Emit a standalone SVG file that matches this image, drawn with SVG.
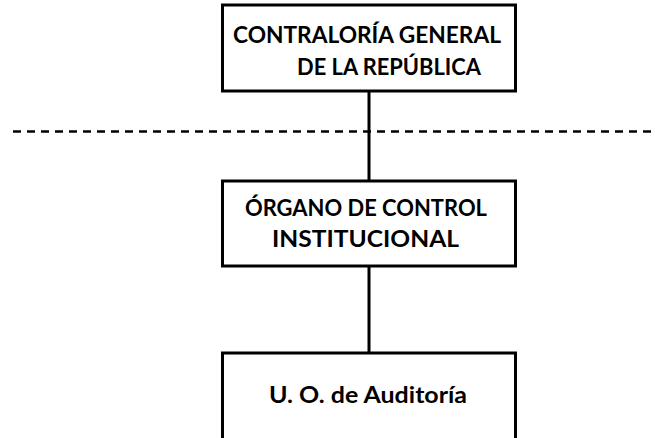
<svg xmlns="http://www.w3.org/2000/svg" width="655" height="438" viewBox="0 0 655 438">
<style>
.box{fill:#fff;stroke:#000;stroke-width:3}
.lbl{font-family:Lato,"Open Sans","Liberation Sans",sans-serif;font-weight:700;font-size:22px;fill:#000}
.conn{stroke:#000;stroke-width:3;fill:none}
.dash{stroke:#000;stroke-width:2.5;stroke-dasharray:8 6;fill:none}
</style>
<rect width="655" height="438" fill="#fff"/>
<g id="connectors">
<line class="dash" x1="13" y1="131.5" x2="655" y2="131.5"/>
<line class="conn" x1="369" y1="91" x2="369" y2="181"/>
<line class="conn" x1="369" y1="266" x2="369" y2="353"/>
</g>
<g id="node-cgr">
<rect class="box" x="222.5" y="5" width="293" height="86"/>
<text class="lbl" x="233" y="43" textLength="268" lengthAdjust="spacingAndGlyphs">CONTRALORÍA GENERAL</text>
<text class="lbl" x="297" y="75" textLength="184" lengthAdjust="spacingAndGlyphs">DE LA REPÚBLICA</text>
</g>
<g id="node-oci">
<rect class="box" x="222.5" y="181" width="293" height="85"/>
<text class="lbl" x="245" y="216" textLength="242" lengthAdjust="spacingAndGlyphs">ÓRGANO DE CONTROL</text>
<text class="lbl" x="272" y="247" textLength="187" lengthAdjust="spacingAndGlyphs">INSTITUCIONAL</text>
</g>
<g id="node-uo">
<rect class="box" x="222.5" y="353" width="293" height="100"/>
<text class="lbl" x="269" y="403" textLength="198" lengthAdjust="spacingAndGlyphs">U. O. de Auditoría</text>
</g>
</svg>
